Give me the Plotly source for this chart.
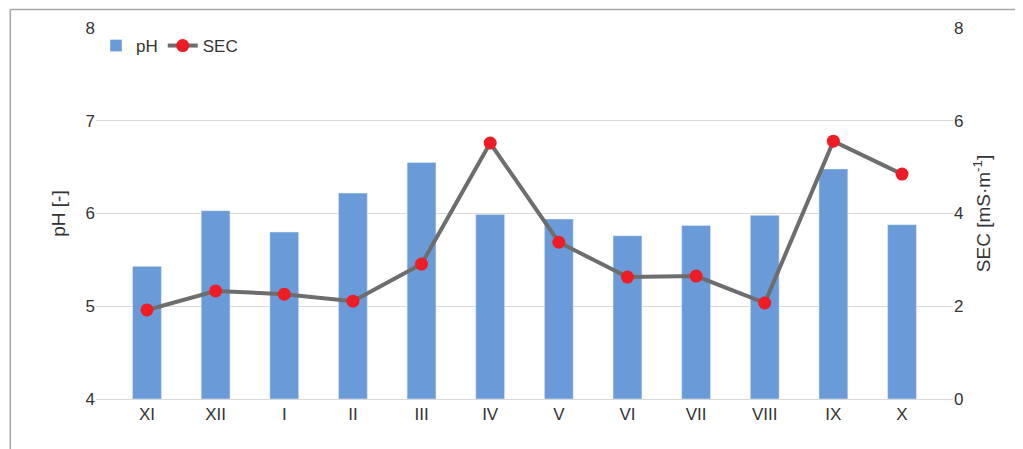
import plotly.graph_objects as go

months = ["XI", "XII", "I", "II", "III", "IV", "V", "VI", "VII", "VIII", "IX", "X"]
ph = [5.43, 6.03, 5.80, 6.22, 6.55, 5.99, 5.94, 5.76, 5.87, 5.98, 6.48, 5.88]
sec = [1.92, 2.33, 2.26, 2.11, 2.91, 5.52, 3.38, 2.63, 2.65, 2.07, 5.56, 4.85]

fig = go.Figure()
# bars start at pH 4 (axis bottom)
fig.add_trace(go.Bar(x=months, y=[v - 4 for v in ph], base=4, name="pH",
                     marker_color="#6a9bd8", width=0.42))
fig.add_trace(go.Scatter(x=months, y=sec, name="SEC", yaxis="y2",
                         mode="lines+markers",
                         line=dict(color="#6d6d6d", width=4),
                         marker=dict(color="#ee1c25", size=13)))

font = dict(family="Liberation Sans, Arial", size=16, color="#333333")
fig.update_layout(
    width=1023, height=449,
    paper_bgcolor="white", plot_bgcolor="white",
    margin=dict(l=88, r=78, t=20, b=58),
    font=font,
    showlegend=True,
    legend=dict(orientation="h", x=0.0, y=1.0, xanchor="left", yanchor="top",
                font=dict(size=17), bgcolor="rgba(0,0,0,0)"),
    xaxis=dict(showgrid=False, showline=True, linecolor="#d9d9d9",
               ticks="", tickfont=dict(size=17)),
    yaxis=dict(title=dict(text="pH [-]", standoff=14), range=[4, 8], dtick=1,
               gridcolor="#d9d9d9", zeroline=False, tickfont=dict(size=17)),
    yaxis2=dict(title=dict(text="SEC [mS·m<sup>-1</sup>]", standoff=14),
                range=[0, 8], dtick=2, overlaying="y", side="right",
                showgrid=False, zeroline=False, tickfont=dict(size=17)),
    shapes=[dict(type="rect", xref="paper", yref="paper",
                 x0=-0.1, x1=1.088, y0=-0.15, y1=1.05,
                 line=dict(color="#a6a6a6", width=1.5))],
)
fig.write_html("out.html")
